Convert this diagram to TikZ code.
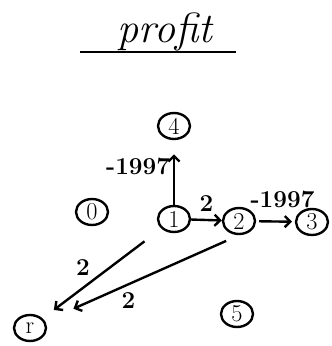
\documentclass[tikz,border=0pt]{standalone}
\usetikzlibrary{arrows.meta,shapes.geometric}

\tikzset{
  state/.style={draw, ellipse, line width=1.7pt, inner sep=0pt,
    minimum width=0.8cm, minimum height=0.65cm, font=\LARGE},
  lbl/.style={font=\LARGE\bfseries, inner sep=2pt},
  edge/.style={->, line width=1.7pt}
}

\begin{document}
\begin{tikzpicture}[x=0.025cm, y=-0.025cm, >={Straight Barb[length=4pt,width=8pt]}]
  \useasboundingbox (0,0) rectangle (331,346);

  % Title
  \node[font=\fontsize{30}{34}\selectfont\itshape] (title) at (165,32) {profit};
  \draw[line width=1.7pt] (80,52) -- (236,52);

  % States
  \node[state] (n4) at (174,126) {4};
  \node[state] (n0) at (92,212) {0};
  \node[state] (n1) at (174,219) {1};
  \node[state] (n2) at (239,221) {2};
  \node[state] (n3) at (312,222) {3};
  \node[state] (n5) at (237,314) {5};
  \node[state] (nr) at (30,328) {r};

  % Edges
  \draw[edge, shorten >=10pt] (n1) -- node[lbl, left, pos=0.6] {-1997} (n4);
  \draw[edge] (n1) -- node[lbl, above, yshift=3pt] {2} (n2);
  \draw[edge, shorten <=2pt, shorten >=2pt] (n2) -- node[lbl, above, xshift=5pt, yshift=7pt] {-1997} (n3);
  \draw[edge, shorten <=15pt, shorten >=10pt] (n1) -- node[lbl, above left, pos=0.57] {2} (nr);
  \draw[edge, shorten <=10pt, shorten >=22pt] (n2.south) -- node[lbl, below, pos=0.57, yshift=-3pt] {2} (nr);
\end{tikzpicture}
\end{document}
